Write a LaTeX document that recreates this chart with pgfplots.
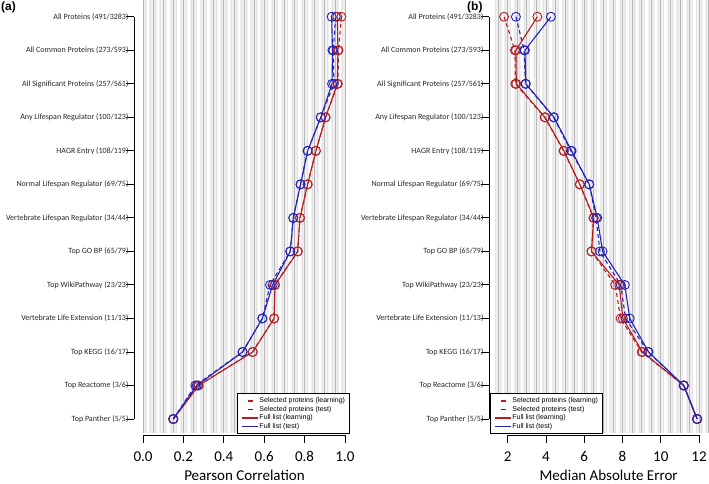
\documentclass[border=0pt]{standalone}
\usepackage{pgfplots}
\pgfplotsset{compat=1.18}
\usepgfplotslibrary{groupplots}
\usepackage{fontspec}
\setmainfont{Carlito}
\newfontfamily\arialfont{Liberation Sans}
\definecolor{myred}{RGB}{180,30,35}
\definecolor{myblue}{RGB}{35,35,185}
\definecolor{bgg}{RGB}{240,240,240}
\definecolor{gridd}{RGB}{182,182,182}

\pgfplotsset{
  panel/.style={
    scale only axis,
    height=435pt,
    ymin=0.523, ymax=13.5,
    axis line style={draw=none},
    clip=false,
    ytick={1,...,13},
    yticklabels={Top Panther (5/5), Top Reactome (3/6), Top KEGG (16/17), Vertebrate Life Extension (11/13), Top WikiPathway (23/23), Top GO BP (65/79), Vertebrate Lifespan Regulator (34/44), Normal Lifespan Regulator (69/75), HAGR Entry (108/119), Any Lifespan Regulator (100/123), All Significant Proteins (257/561), All Common Proteins (273/593), All Proteins (491/3283)},
    xtick pos=left, ytick pos=left,
    tick align=outside, major tick length=8pt,
    major tick style={black, line width=0.9pt},
    yticklabel style={font=\fontsize{8}{9}\selectfont, text=black!85, xshift=6pt},
    xticklabel style={font=\fontsize{15}{16}\selectfont, yshift=-5pt},
    xlabel style={font=\fontsize{15}{16}\selectfont, anchor=center, inner sep=0pt, yshift=-40pt},
    every axis plot/.append style={line width=1.1pt, mark=o, mark size=4.5pt, mark options={solid, line width=0.9pt}},
    legend style={font=\arialfont\fontsize{7}{8}\selectfont, draw=black, line width=0.9pt, fill=white,
      anchor=south west, inner xsep=4pt, inner ysep=3pt, row sep=0.3pt,
      nodes={inner sep=0.6pt, text height=5.3pt, text depth=1.7pt},
      /tikz/every even column/.append style={column sep=7pt}},
    legend cell align=left,
  },
}

\begin{document}
\begin{tikzpicture}
\begin{groupplot}[group style={group size=2 by 1, horizontal sep=143pt, group name=G}, panel]
% ---------------- panel (a) ----------------
\nextgroupplot[
  width=212pt,
  xmin=-0.0446, xmax=1.005,
  xtick={0,0.2,0.4,0.6,0.8,1.0},
  xticklabels={0.0,0.2,0.4,0.6,0.8,1.0},
  xlabel={Pearson Correlation},
  xlabel style={at={(rel axis cs:0.521,0)}},
  legend style={at={(0.486,0.0023)}},
]
\fill[bgg] (axis cs:0,0.582) rectangle (axis cs:1.005,13.5);
\pgfplotsinvokeforeach{0.025,0.075,...,0.98}{\draw[white, line width=2.5pt] (axis cs:#1,0.582) -- (axis cs:#1,13.5);}
\pgfplotsinvokeforeach{0.0125,0.0375,...,0.99}{\draw[black!11, line width=0.5pt] (axis cs:#1,0.582) -- (axis cs:#1,13.5);}
\pgfplotsinvokeforeach{0,0.05,...,1.001}{\draw[gridd, line width=0.8pt] (axis cs:#1,0.582) -- (axis cs:#1,13.5);}
\draw[black, line width=0.9pt] (axis cs:-0.0446,1) -- (axis cs:-0.0446,13);
\draw[black, line width=0.9pt] (axis cs:0,0.523) -- (axis cs:1,0.523);

\addlegendimage{legend image code/.code={\draw[myred, line width=1.4pt] (5.5pt,0pt) -- (10.5pt,0pt);}}\addlegendentry{Selected proteins (learning)}
\addlegendimage{legend image code/.code={\draw[myblue, line width=1.4pt] (5.5pt,0pt) -- (10.5pt,0pt);}}\addlegendentry{Selected proteins (test)}
\addlegendimage{legend image code/.code={\draw[myred, line width=1.4pt] (0pt,0pt) -- (16pt,0pt);}}\addlegendentry{Full list (learning)}
\addlegendimage{legend image code/.code={\draw[myblue, line width=1.4pt] (0pt,0pt) -- (16pt,0pt);}}\addlegendentry{Full list (test)}

\addplot[myred, dash pattern=on 4pt off 3pt, forget plot] coordinates {
(0.982,13) (0.968,12) (0.965,11) (0.904,10) (0.856,9) (0.815,8) (0.777,7) (0.766,6) (0.652,5) (0.649,4) (0.543,3) (0.272,2) (0.150,1)};
\addplot[myblue, dash pattern=on 4pt off 3pt, forget plot] coordinates {
(0.954,13) (0.942,12) (0.945,11) (0.880,10) (0.815,9) (0.780,8) (0.744,7) (0.729,6) (0.629,5) (0.591,4) (0.493,3) (0.259,2) (0.150,1)};
\addplot[myred, forget plot] coordinates {
(0.962,13) (0.965,12) (0.962,11) (0.904,10) (0.856,9) (0.815,8) (0.777,7) (0.766,6) (0.654,5) (0.649,4) (0.543,3) (0.276,2) (0.150,1)};
\addplot[myblue, forget plot] coordinates {
(0.934,13) (0.938,12) (0.936,11) (0.880,10) (0.815,9) (0.780,8) (0.744,7) (0.729,6) (0.642,5) (0.591,4) (0.493,3) (0.266,2) (0.150,1)};

% ---------------- panel (b) ----------------
\nextgroupplot[
  width=220pt,
  xmin=1.024, xmax=12.52,
  xtick={2,4,6,8,10,12},
  xticklabels={2,4,6,8,10,12},
  xlabel={Median Absolute Error},
  xlabel style={at={(rel axis cs:0.544,0)}},
  legend style={at={(0.0045,0.0023)}},
]
\fill[bgg] (axis cs:1.2,0.582) rectangle (axis cs:12.52,13.5);
\pgfplotsinvokeforeach{1.25,1.75,...,12.3}{\draw[white, line width=2.5pt] (axis cs:#1,0.582) -- (axis cs:#1,13.5);}
\pgfplotsinvokeforeach{1.375,1.625,...,12.5}{\draw[black!11, line width=0.5pt] (axis cs:#1,0.582) -- (axis cs:#1,13.5);}
\pgfplotsinvokeforeach{1.5,2,...,12.51}{\draw[gridd, line width=0.8pt] (axis cs:#1,0.582) -- (axis cs:#1,13.5);}
\draw[black, line width=0.9pt] (axis cs:1.024,1) -- (axis cs:1.024,13);
\draw[black, line width=0.9pt] (axis cs:2,0.523) -- (axis cs:12,0.523);

\addlegendimage{legend image code/.code={\draw[myred, line width=1.4pt] (5.5pt,0pt) -- (10.5pt,0pt);}}\addlegendentry{Selected proteins (learning)}
\addlegendimage{legend image code/.code={\draw[myblue, line width=1.4pt] (5.5pt,0pt) -- (10.5pt,0pt);}}\addlegendentry{Selected proteins (test)}
\addlegendimage{legend image code/.code={\draw[myred, line width=1.4pt] (0pt,0pt) -- (16pt,0pt);}}\addlegendentry{Full list (learning)}
\addlegendimage{legend image code/.code={\draw[myblue, line width=1.4pt] (0pt,0pt) -- (16pt,0pt);}}\addlegendentry{Full list (test)}

\addplot[myred, dash pattern=on 4pt off 3pt, forget plot] coordinates {
(1.81,13) (2.38,12) (2.40,11) (3.93,10) (4.92,9) (5.77,8) (6.48,7) (6.38,6) (7.62,5) (7.90,4) (9.00,3) (11.20,2) (11.90,1)};
\addplot[myblue, dash pattern=on 4pt off 3pt, forget plot] coordinates {
(2.43,13) (2.86,12) (2.93,11) (4.40,10) (5.30,9) (6.26,8) (6.62,7) (6.82,6) (7.91,5) (8.16,4) (9.34,3) (11.20,2) (11.90,1)};
\addplot[myred, forget plot] coordinates {
(3.55,13) (2.43,12) (2.45,11) (3.95,10) (4.94,9) (5.77,8) (6.50,7) (6.38,6) (7.83,5) (8.02,4) (9.04,3) (11.20,2) (11.90,1)};
\addplot[myblue, forget plot] coordinates {
(4.26,13) (2.90,12) (2.95,11) (4.42,10) (5.34,9) (6.26,8) (6.68,7) (6.96,6) (8.12,5) (8.38,4) (9.36,3) (11.20,2) (11.90,1)};
\end{groupplot}

\node[anchor=north west, inner sep=0pt, font=\arialfont\bfseries\fontsize{12}{12}\selectfont] at ([shift={(-133pt,433pt)}]G c1r1.south west) {(a)};
\node[anchor=north west, inner sep=0pt, font=\arialfont\bfseries\fontsize{12}{12}\selectfont] at ([shift={(333pt,433pt)}]G c1r1.south west) {(b)};

\pgfresetboundingbox
\path[use as bounding box] ([shift={(-134pt,-48pt)}]G c1r1.south west) rectangle ([shift={(575pt,435pt)}]G c1r1.south west);
\end{tikzpicture}
\end{document}
